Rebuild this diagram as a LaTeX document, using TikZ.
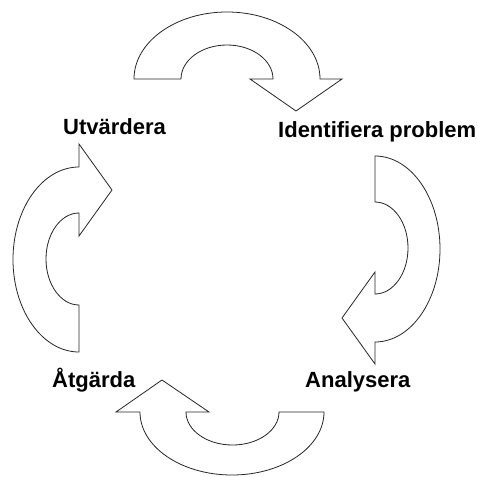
\documentclass[tikz,border=0pt]{standalone}
\usepackage{fontspec}
\setmainfont{Liberation Sans}
\begin{document}
\begin{tikzpicture}[x=1pt,y=-1pt,
  cyclearrow/.style={draw=black!85,line width=0.8pt,fill=white,line join=miter},
  steplabel/.style={inner sep=0pt,anchor=base west,font=\fontsize{22}{26}\selectfont\bfseries}]
\useasboundingbox (0,0) rectangle (478,476);
% top arrow (Utvärdera -> Identifiera problem)
\draw[cyclearrow] (134,79) arc[start angle=180,end angle=0,x radius=93pt,y radius=67pt]
  -- (342,79) -- (296,111) -- (250,79) -- (273,79)
  arc[start angle=0,end angle=180,x radius=46pt,y radius=34pt] -- cycle;
% right arrow (Identifiera problem -> Analysera)
\draw[cyclearrow] (375,156) arc[start angle=90,end angle=-90,x radius=65pt,y radius=93pt]
  -- (375,364) -- (342,318) -- (375,272) -- (375,294)
  arc[start angle=-90,end angle=90,x radius=33pt,y radius=46pt] -- cycle;
% bottom arrow (Analysera -> Åtgärda)
\draw[cyclearrow] (324,412) arc[start angle=0,end angle=-180,x radius=92pt,y radius=63pt]
  -- (116,412) -- (162,380) -- (209,412) -- (186,412)
  arc[start angle=180,end angle=360,x radius=46.5pt,y radius=33pt] -- cycle;
% left arrow (Åtgärda -> Utvärdera)
\draw[cyclearrow] (79,352) arc[start angle=270,end angle=90,x radius=66pt,y radius=92.5pt]
  -- (79,144) -- (112,190) -- (79,236) -- (79,213)
  arc[start angle=90,end angle=270,x radius=33pt,y radius=46pt] -- cycle;
\node[steplabel] (utv) at (63,134) {Utvärdera};
\node[steplabel] (idp) at (278,137) {Identifiera problem};
\node[steplabel] (atg) at (52,387) {Åtgärda};
\node[steplabel] (ana) at (305,387) {Analysera};
\end{tikzpicture}
\end{document}
